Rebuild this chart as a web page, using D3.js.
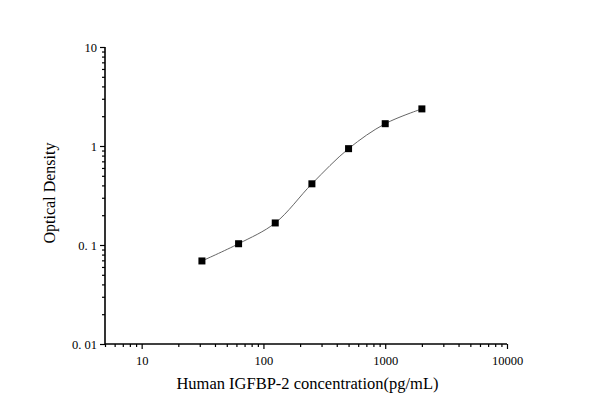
<!DOCTYPE html>
<html>
<head>
<meta charset="utf-8">
<script src="https://cdn.jsdelivr.net/npm/d3@7"></script>
<style>
  body { margin: 0; background: #fff; }
  text { font-family: "Liberation Serif", "DejaVu Serif", serif; }
</style>
</head>
<body>
<div id="chart"></div>
<script>
// Standard concentrations (pg/mL) and measured OD
const concentrations = [31.25, 62.5, 125, 250, 500, 1000, 2000];
const densities = [0.069, 0.103, 0.167, 0.415, 0.94, 1.68, 2.37];

const xTickValues = [10, 100, 1000, 10000];
const yTickValues = [0.01, 0.1, 1, 10];
const yTickLabels = ["0. 01", "0. 1", "1", "10"];

const W = 590, H = 412;
const margin = { top: 47, right: 83, bottom: 68, left: 105 };
const width = W - margin.left - margin.right;
const height = H - margin.top - margin.bottom;

const svg = d3.select("#chart")
    .append("svg")
    .attr("width", W)
    .attr("height", H);

const g = svg.append("g")
    .attr("transform", `translate(${margin.left},${margin.top})`);

// Scales
const x = d3.scaleLog()
    .domain([5, 10000])
    .range([0, width]);

const y = d3.scaleLog()
    .domain([0.01, 10])
    .range([height, 0]);

// minor ticks 2..9 per decade
function minorTicks(lo, hi, major) {
    const out = [];
    for (let e = Math.floor(Math.log10(lo)); e < Math.ceil(Math.log10(hi)); e++) {
        for (let k = 1; k <= 9; k++) {
            const v = +(k * Math.pow(10, e)).toPrecision(6);
            if (v >= lo && v <= hi && !major.some(t => Math.abs(t - v) < 1e-9)) out.push(v);
        }
    }
    return out;
}

// X axis
g.append("g")
    .attr("transform", `translate(0,${height})`)
    .call(d3.axisBottom(x).tickValues(minorTicks(5, 10000, xTickValues))
        .tickSize(3).tickSizeOuter(0).tickFormat(""));
g.append("g")
    .attr("transform", `translate(0,${height})`)
    .call(d3.axisBottom(x).tickValues(xTickValues).tickSize(5).tickSizeOuter(0)
        .tickPadding(7).tickFormat(d3.format("d")));

// Y axis
g.append("g")
    .call(d3.axisLeft(y).tickValues(minorTicks(0.01, 10, yTickValues))
        .tickSize(3).tickSizeOuter(0).tickFormat(""));
g.append("g")
    .call(d3.axisLeft(y).tickValues(yTickValues).tickSize(5).tickSizeOuter(0)
        .tickPadding(3).tickFormat((d, i) => yTickLabels[i]));

g.selectAll(".domain").remove();
g.selectAll(".tick line").attr("stroke", "#000").attr("stroke-width", 1.2);
g.selectAll(".tick text")
    .style("font-family", "'Liberation Serif', serif")
    .style("font-size", "12.5px")
    .attr("fill", "#000");

// axis lines
g.append("line")
    .attr("x1", x.range()[0]).attr("x2", x.range()[1])
    .attr("y1", height).attr("y2", height)
    .attr("stroke", "#000").attr("stroke-width", 1.6);
g.append("line")
    .attr("x1", 0).attr("x2", 0)
    .attr("y1", y.range()[0]).attr("y2", y.range()[1])
    .attr("stroke", "#000").attr("stroke-width", 1.6);

// Curve
const pts = concentrations.map((c, i) => ({ c, od: densities[i] }));

const line = d3.line()
    .x(d => x(d.c))
    .y(d => y(d.od))
    .curve(d3.curveCatmullRom.alpha(0.5));

g.append("path")
    .datum(pts)
    .attr("d", line)
    .attr("fill", "none")
    .attr("stroke", "#666")
    .attr("stroke-width", 1);

// Points
g.selectAll("rect.pt")
    .data(pts)
    .enter()
    .append("rect")
    .attr("class", "pt")
    .attr("x", d => x(d.c) - 3.5)
    .attr("y", d => y(d.od) - 3.5)
    .attr("width", 7)
    .attr("height", 7)
    .attr("fill", "#000");

// X axis label
svg.append("text")
    .attr("x", margin.left + x(100) + 44)
    .attr("y", 389)
    .style("text-anchor", "middle")
    .style("font-size", "16.5px")
    .text("Human IGFBP-2 concentration(pg/mL)");

// Y axis label
svg.append("text")
    .attr("transform", "rotate(-90)")
    .attr("x", -193)
    .attr("y", 55)
    .style("text-anchor", "middle")
    .style("font-size", "16px")
    .text("Optical Density");
</script>
</body>
</html>
